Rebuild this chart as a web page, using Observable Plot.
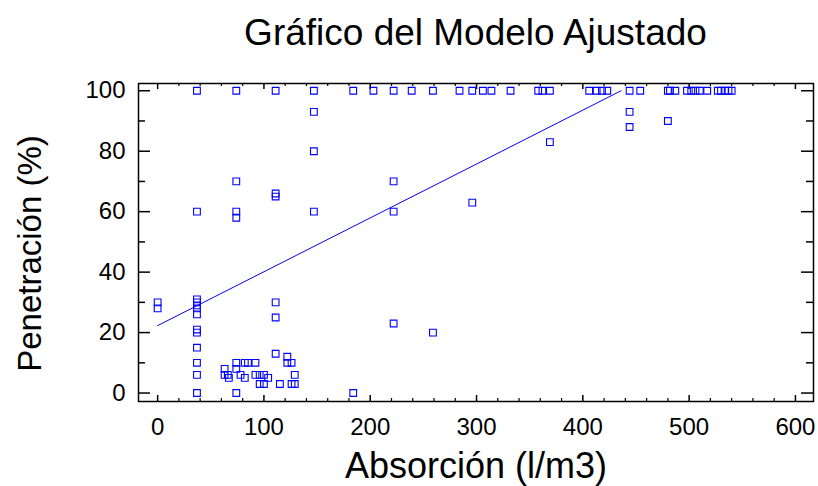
<!DOCTYPE html>
<html><head><meta charset="utf-8">
<script src="https://cdn.jsdelivr.net/npm/d3@7"></script>
<script src="https://cdn.jsdelivr.net/npm/@observablehq/plot@0.6"></script>
<style>
body{margin:0;background:#fff;font-family:"Liberation Sans",Arial,sans-serif;}
#title{height:60px;box-sizing:border-box;padding:5px 5px 0 138px;text-align:center;font-size:37px;line-height:55px;color:#000;white-space:nowrap;}
#chart svg{overflow:visible;}
</style></head><body>
<div id="title">Gráfico del Modelo Ajustado</div>
<div id="chart"></div>
<script>
// ---- data ----
const titleText = "Gráfico del Modelo Ajustado";
const xLabel = "Absorción (l/m3)";
const yLabel = "Penetración (%)";

// observed points (Absorción, Penetración)
const absorcion = [
  0, 0,
  37, 37, 37, 37, 37, 37, 37, 37, 37, 37, 37, 37, 37,
  74, 74, 74, 74, 74, 74, 74,
  111, 111, 111, 111, 111, 111,
  147, 147, 147, 147,
  184, 184,
  222, 222, 222, 222,
  259, 259,
  296, 296,
  369, 369,
  444, 444, 444,
  480, 480,
  203, 239, 284, 306, 314, 332, 358, 362, 406, 413, 418, 423, 454,
  482, 487, 498, 502, 506, 510, 517, 527, 530, 534, 537, 540,
  63, 63, 66, 67, 78, 82, 82, 85, 92, 92, 96, 96, 100, 100, 104, 115,
  122, 122, 126, 126, 129, 129
];
const penetracion = [
  30, 28,
  100, 60, 31, 30, 29, 28, 26, 21, 20, 15, 10, 6, 0,
  100, 70, 60, 58, 10, 8, 0,
  100, 66, 65, 30, 25, 13,
  100, 93, 80, 60,
  100, 0,
  100, 70, 60, 23,
  100, 20,
  100, 63,
  100, 83,
  100, 93, 88,
  100, 90,
  100, 100, 100, 100, 100, 100, 100, 100, 100, 100, 100, 100, 100,
  100, 100, 100, 100, 100, 100, 100, 100, 100, 100, 100, 100,
  8, 6, 6, 5, 6, 5, 10, 10, 10, 6, 6, 3, 6, 3, 5, 3,
  12, 10, 10, 3, 6, 3
];

// fitted line end points
const fitX = [0, 436];
const fitY = [22.3, 100];

// axes
const xDomain = [-18, 617];
const yDomain = [-2.8, 102.4];
const xTicks = [0, 100, 200, 300, 400, 500, 600];
const xMinor = [20, 40, 60, 80, 120, 140, 160, 180, 220, 240, 260, 280, 320, 340, 360, 380, 420, 440, 460, 480, 520, 540, 560, 580];
const yTicks = [0, 20, 40, 60, 80, 100];
const yMinor = [10, 30, 50, 70, 90];

// ---- chart ----
document.getElementById("title").textContent = titleText;
const points = absorcion.map((x, i) => ({x, y: penetracion[i]}));
const fit = fitX.map((x, i) => ({x, y: fitY[i]}));

const W = 818, H = 426;
const mL = 138, mR = 5, mT = 23, mB = 85;
const fw = W - mL - mR, fh = H - mT - mB;
const blue = "#0000ff";

const chart = Plot.plot({
  width: W, height: H,
  marginLeft: mL, marginRight: mR, marginTop: mT, marginBottom: mB,
  style: {fontFamily: "'Liberation Sans', Arial, sans-serif", fontSize: "24px", color: "#000", background: "#fff", overflow: "visible"},
  x: {domain: xDomain},
  y: {domain: yDomain},
  marks: [
    Plot.axisX(xTicks, {anchor: "bottom", tickSize: 0, tickPadding: 16, fontSize: 24, label: null, tickFormat: d => d}),
    Plot.axisY(yTicks, {anchor: "left", tickSize: 0, tickPadding: 13, fontSize: 24, label: null, tickFormat: d => d}),
    // inward ticks: bottom & top
    Plot.tickX(xTicks, {x: d => d, insetTop: fh - 6, stroke: "#000", strokeWidth: 1.5}),
    Plot.tickX(xMinor, {x: d => d, insetTop: fh - 3, stroke: "#000", strokeWidth: 1.2}),
    Plot.tickX(xTicks, {x: d => d, insetBottom: fh - 6, stroke: "#000", strokeWidth: 1.5}),
    Plot.tickX(xMinor, {x: d => d, insetBottom: fh - 3, stroke: "#000", strokeWidth: 1.2}),
    // inward ticks: left & right
    Plot.tickY(yTicks, {y: d => d, insetRight: fw - 12, stroke: "#000", strokeWidth: 1.5}),
    Plot.tickY(yMinor, {y: d => d, insetRight: fw - 7, stroke: "#000", strokeWidth: 1.5}),
    Plot.tickY(yTicks, {y: d => d, insetLeft: fw - 12, stroke: "#000", strokeWidth: 1.5}),
    Plot.tickY(yMinor, {y: d => d, insetLeft: fw - 7, stroke: "#000", strokeWidth: 1.5}),
    Plot.frame({stroke: "#000", strokeWidth: 1.5}),
    Plot.line(fit, {x: "x", y: "y", stroke: blue, strokeWidth: 1}),
    Plot.dot(points, {x: "x", y: "y", symbol: "square", r: 3.8, stroke: blue, strokeWidth: 1.1, fill: "none"}),
    Plot.text([xLabel], {text: d => d, frameAnchor: "bottom", textAnchor: "middle", lineAnchor: "bottom", dy: 76, fontSize: 36, fill: "#000"}),
    Plot.text([yLabel], {text: d => d, frameAnchor: "left", textAnchor: "middle", rotate: -90, dx: -108, dy: 11, fontSize: 33, fill: "#000"})
  ]
});
document.getElementById("chart").appendChild(chart);
</script>
</body></html>
